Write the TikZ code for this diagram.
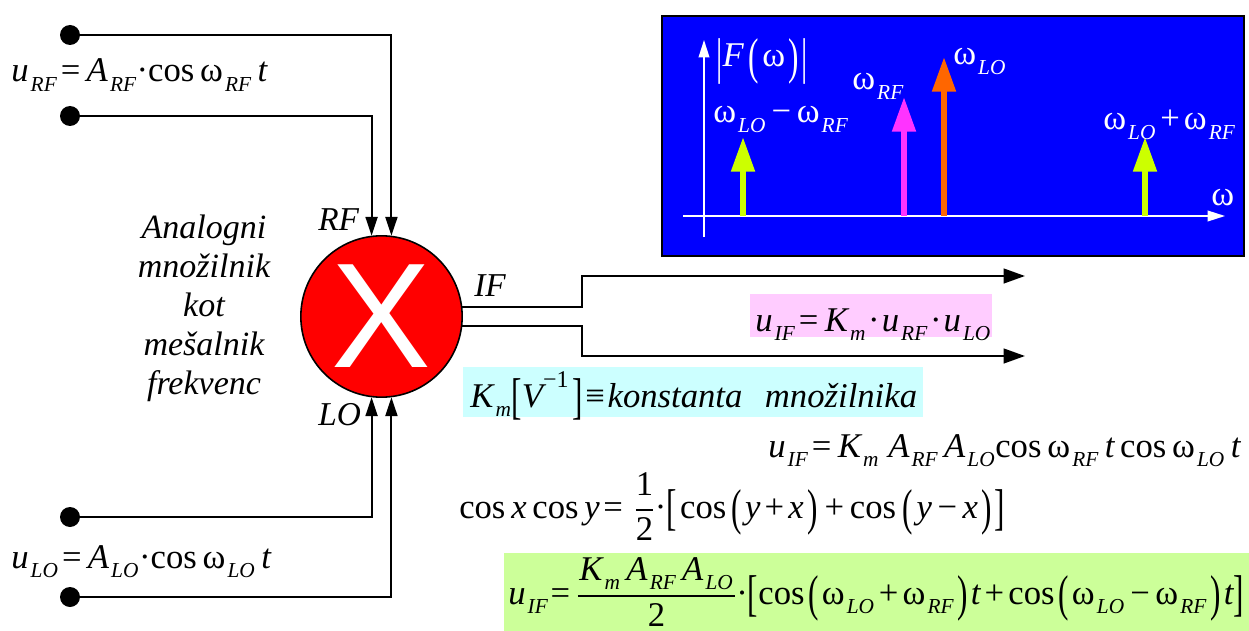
\documentclass[tikz,border=0pt]{standalone}
\usepackage{fontspec}
\setmainfont{Liberation Serif}
\newfontfamily\crossfont{Liberation Sans}
\usepackage{graphicx}
\usetikzlibrary{arrows.meta}
\definecolor{panelblue}{HTML}{0000FF}
\definecolor{sumgreen}{HTML}{CCFF00}
\definecolor{rfpink}{HTML}{FF33FF}
\definecolor{looran}{HTML}{FF6600}
\definecolor{boxpink}{HTML}{FFCCFF}
\definecolor{boxcyan}{HTML}{CCFFFF}
\definecolor{boxgreen}{HTML}{CCFF99}
\newcommand{\ssb}[1]{\raisebox{-0.27em}{\fontsize{16}{16}\selectfont\kern0.1em\textit{#1}\kern0.03em}}
\newcommand{\om}{\textup{ω}}
\newcommand{\rup}[1]{\textup{#1}}
\newcommand{\tallb}[1]{\raisebox{-0.2em}{\scalebox{0.9}[1.45]{\textup{#1}}}}
\newcommand{\lpar}{\kern0.14em\tallb{(}\kern0.1em}
\newcommand{\rpar}{\kern0.1em\tallb{)}\kern0.08em}
\newcommand{\eqs}{\kern0.1em\rup{=}\kern0.18em}
\newcommand{\pls}{\kern0.12em\rup{+}\kern0.12em}
\newcommand{\mns}{\kern0.16em\rup{−}\kern0.16em}
\newcommand{\cdt}{\kern0.06em\rup{·}\kern0.06em}
\newcommand{\frc}[2]{$\displaystyle{\hbox{#1}\above 1.2pt\hbox{#2}}$}
\tikzset{
    eqn/.style={anchor=base west, inner sep=0pt, font=\fontsize{26}{30}\selectfont\itshape},
    lab/.style={anchor=base west, inner sep=0pt, font=\fontsize{25}{29}\selectfont\itshape},
    term/.style={circle, fill=black, inner sep=0pt, minimum size=15pt},
    sig/.style={line width=1.4pt, -{Triangle[length=14pt, width=9pt]}},
    outsig/.style={line width=1.6pt, -{Triangle[length=16pt, width=11pt]}},
    spike/.style={line width=4.5pt, -{Triangle[length=26pt, width=17pt]}},
    shade/.style={inner sep=0pt, outer sep=0pt, anchor=north west}
}

\begin{document}
\begin{tikzpicture}[x=0.75pt,y=-0.75pt, line cap=butt, line join=miter]
\useasboundingbox (0,0) rectangle (1249,631);

% colored boxes behind the formulas
\fill[boxpink] (750,294) rectangle (992,337);
\fill[boxcyan] (463,367) rectangle (923,417);
\fill[boxgreen] (504,553) rectangle (1249,631);

% mixer
\node[circle, draw=black, fill=red, line width=1.2pt, minimum size=121pt, inner sep=0pt,
      font=\fontsize{112}{112}\selectfont\crossfont, text=white] (mix) at (381.5,316.5) {X};

% terminals
\node[term] (rfa) at (70,35) {};
\node[term] (rfb) at (70,116) {};
\node[term] (loa) at (70,517) {};
\node[term] (lob) at (70,597) {};

\draw[sig] (rfa) -| (mix.83);
\draw[sig] (rfb) -| (mix.97);
\draw[sig] (loa) -| (mix.-97);
\draw[sig] (lob) -| (mix.-83);

% output pair
\coordinate (bendup) at (582,276);
\coordinate (benddn) at (582,356);
\coordinate (endup) at (1025,276);
\coordinate (enddn) at (1025,356);
\draw[outsig] (mix.7) -| (bendup) -- (endup);
\draw[outsig] (mix.-7) -| (benddn) -- (enddn);

% left side labels
\node[eqn] (urf) at (11,82) {u\ssb{RF}\eqs A\ssb{RF}\rup{·cos\,}\om\ssb{RF}\,t};
\node[eqn] (ulo) at (11,568) {u\ssb{LO}\eqs A\ssb{LO}\rup{·cos\,}\om\ssb{LO}\,t};
\node[lab] (rflab) at (318,230) {RF};
\node[lab] (lolab) at (318,425) {LO};
\node[lab] (iflab) at (474,296) {IF};
\node[align=center, inner sep=0pt, font=\fontsize{25.5}{29.25}\selectfont\itshape] (title) at (204,308)
  {Analogni\\množilnik\\kot\\mešalnik\\frekvenc};

% spectrum panel
\node[shade, draw=black, line width=1.5pt, fill=panelblue, minimum width=436.5pt, minimum height=180pt] (panel) at (662,16) {};
\coordinate (wleft) at (683,216);
\coordinate (wright) at (1225,216);
\coordinate (fbot) at (704,237);
\coordinate (ftop) at (704,40);
\draw[white, line width=1.2pt, -{Triangle[length=13pt, width=8pt]}] (wleft) -- (wright);
\draw[white, line width=1.2pt, -{Triangle[length=13pt, width=8pt]}] (fbot) -- (ftop);

\coordinate (diffb) at (743,216);
\coordinate (difft) at (743,137);
\coordinate (rfb0) at (904,216);
\coordinate (rft) at (904,97);
\coordinate (lob0) at (944,216);
\coordinate (lot) at (944,57);
\coordinate (sumb) at (1145,216);
\coordinate (sumt) at (1145,137);
\draw[spike, sumgreen] (diffb) -- (difft);
\draw[spike, rfpink] (rfb0) -- (rft);
\draw[spike, looran] (lob0) -- (lot);
\draw[spike, sumgreen] (sumb) -- (sumt);

\node[eqn, text=white] (fabs) at (716,67) {\tallb{|}F\lpar\om\rpar\tallb{|}};
\node[eqn, text=white] (wlo) at (953,65) {\om\ssb{LO}};
\node[eqn, text=white] (wrf) at (852,90) {\om\ssb{RF}};
\node[eqn, text=white] (wdiff) at (713,123) {\om\ssb{LO}\mns\om\ssb{RF}};
\node[eqn, text=white] (wsum) at (1103,130) {\om\ssb{LO}\pls\om\ssb{RF}};
\node[eqn, text=white] (waxis) at (1211,205) {\om};

% formulas
\node[eqn] (fif) at (755,331) {u\ssb{IF}\eqs K\ssb{m}\cdt u\ssb{RF}\cdt u\ssb{LO}};
\node[eqn] (fkm) at (470,407) {K\ssb{m}\tallb{[}V\raisebox{0.55em}{\fontsize{18}{18}\selectfont\rup{−1}}\kern0.1em\tallb{]}\kern0.08em\rup{≡}\kern0.08em konstanta\kern0.65em množilnika};
\node[eqn] (fprod) at (768,457) {u\ssb{IF}\eqs K\ssb{m}\kern0.1em\,A\ssb{RF}\,A\ssb{LO}\rup{cos\,}\om\ssb{RF}\,t\,\rup{cos\,}\om\ssb{LO}\,t};
\node[eqn] (fcos) at (459,518) {\rup{cos\,}x\,\rup{cos\,}y\eqs\kern0.15em\frc{\rup{1}}{\rup{2}}\rup{·}\tallb{[}\kern0.1em\rup{cos}\lpar y\pls x\rpar\pls\kern0.05em\rup{cos}\kern0.05em\lpar y\mns x\rpar\tallb{]}};
\node[eqn] (fres) at (508,604) {u\ssb{IF}\kern-0.04em\eqs\frc{\kern0.04em K\ssb{m}\,A\ssb{RF}\,A\ssb{LO}\kern0.04em}{\rup{2}}\rup{·}\tallb{[}\rup{cos}\kern-0.04em\lpar\om\ssb{LO}\pls\om\ssb{RF}\rpar t\pls\rup{cos}\kern-0.04em\lpar\om\ssb{LO}\mns\om\ssb{RF}\rpar t\tallb{]}};

\end{tikzpicture}
\end{document}
